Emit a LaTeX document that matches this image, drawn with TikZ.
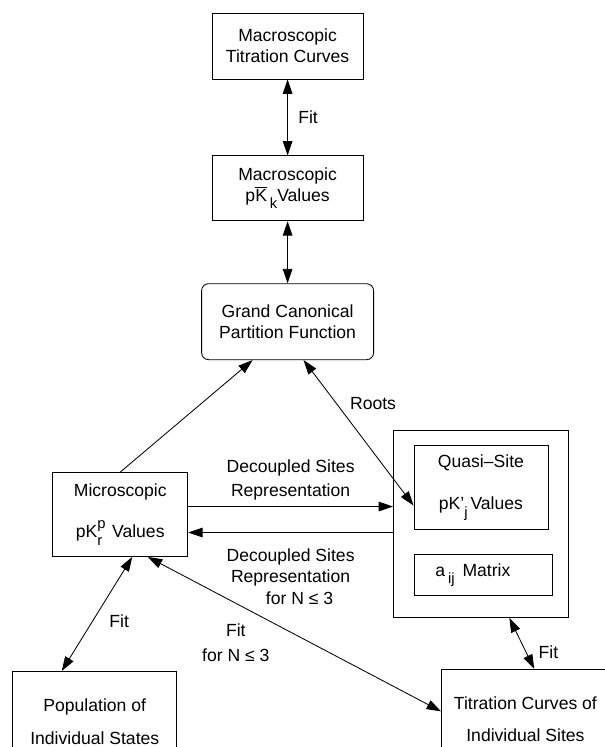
\documentclass[tikz,border=0pt]{standalone}
\usepackage{amsmath}
\usepackage{fontspec}
\setmainfont{Liberation Sans}
\usetikzlibrary{arrows.meta, positioning}

% lowered and raised indices, nearly full size as in the figure
\newcommand{\lo}[1]{\raisebox{-0.42em}{\fontsize{10.5}{10.5}\selectfont #1}}
\newcommand{\hi}[1]{\raisebox{0.55em}{\fontsize{10.5}{10.5}\selectfont #1}}

\begin{document}
\begin{tikzpicture}[
node distance=1.9cm,
block/.style={rectangle, draw, line width=0.6pt, align=center, minimum width=3.775cm, font=\fontsize{12.5}{15}\selectfont},
lbl/.style={align=center, font=\fontsize{12.5}{17}\selectfont},
arrow/.style={line width=0.6pt, -{Triangle[length=3.6mm, width=2.4mm]}},
biarrow/.style={line width=0.6pt, {Triangle[length=3.6mm, width=2.4mm]}-{Triangle[length=3.6mm, width=2.4mm]}}
]
\clip (0,0) rectangle (15.125,-18.675);

\node (mcurves) [block, minimum height=1.65cm] at (7.19,-1.15) {Macroscopic\\Titration Curves};
\node (mpk) [block, minimum height=1.625cm, below=of mcurves] {Macroscopic\\p$\overline{\text{K}}$\,\lo{k}Values};
\node (gcpf) [block, rounded corners=5pt, minimum width=4.3cm, minimum height=1.9cm, below=1.55cm of mpk] {Grand Canonical\\Partition Function};
\node (micro) [block, minimum width=3.375cm, minimum height=2.1cm, below left=2.8cm and 0.325cm of gcpf] {Microscopic\\[0.47cm]pK\rlap{\hi{p}}\lo{r}\; Values};
\node (outer) [block, minimum width=4.375cm, minimum height=4.675cm, below right=1.75cm and 0.475cm of gcpf] {};
\node (quasi) [block, minimum width=3.35cm, minimum height=2.1cm, below=0.375cm of outer.north] {Quasi–Site\\[0.52cm]pK’\lo{j}\,Values};
\node (aij) [block, minimum width=3.45cm, minimum height=1.025cm, below=0.6cm of quasi.south west, anchor=north west] {a\,\lo{ij}\, Matrix\hspace*{0.5cm}};
\node (pop) [block, minimum width=4.1cm, minimum height=2.5cm, anchor=north west] at ([shift={(-1cm,-2.85cm)}]micro.south west) {Population of\\[0.3cm]Individual States};
\node (tis) [block, minimum width=4.2cm, minimum height=2.5cm, anchor=north west] at ([shift={(1.2cm,-1.275cm)}]outer.south west) {Titration Curves of\\[0.27cm]Individual Sites};

\coordinate (dsin) at ([yshift=0.2cm]micro.east);
\coordinate (dsout) at ([yshift=-0.45cm]micro.east);

\draw [biarrow] (mcurves) -- node[right=0.14cm, lbl] {Fit} (mpk);
\draw [biarrow] (mpk) -- (gcpf);
\draw [arrow] (micro.north) -- ([xshift=-0.875cm]gcpf.south);
\draw [biarrow] ([xshift=0.4cm]gcpf.south) -- node[pos=0.3, right=0.21cm, lbl] {Roots} ([yshift=-0.45cm]quasi.west);
\draw [arrow] (dsin) -- node[above=1pt, lbl] {Decoupled Sites\\Representation} (dsin -| outer.west);
\draw [arrow] (dsout -| outer.west) -- node[below=0.28cm, lbl, font=\fontsize{12.5}{15.2}\selectfont] {Decoupled Sites\\Representation\\\hspace*{0.45cm}for N ≤ 3} (dsout);
\draw [biarrow] ([xshift=0.3cm]micro.south) -- node[pos=0.56, right=0.29cm, lbl] {Fit} ([xshift=-0.825cm]pop.north);
\draw [biarrow] ([xshift=0.69cm]micro.south) -- node[pos=0.3, below=0.38cm, lbl, font=\fontsize{12.5}{17.7}\selectfont] {Fit\\for N ≤ 3} ([yshift=0.2cm]tis.west);
\draw [biarrow] ([xshift=0.71cm]outer.south) -- node[pos=0.67, right=0.19cm, lbl] {Fit} ([xshift=0.22cm]tis.north);

\end{tikzpicture}
\end{document}
